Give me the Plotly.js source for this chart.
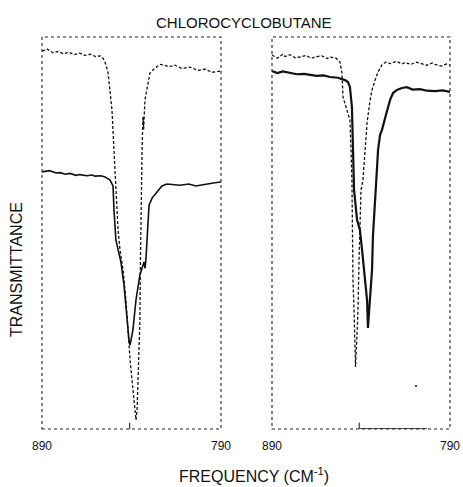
<!DOCTYPE html>
<html>
<head>
<meta charset="utf-8">
<script src="https://cdn.plot.ly/plotly-3.0.1.min.js"></script>
<style>html,body{margin:0;padding:0;background:#fff;}#chart{width:463px;height:487px;}</style>
</head>
<body>
<div id="chart"></div>
<script>
// ---- data (frequency in cm^-1, transmittance in arbitrary %) ----
var chartTitle = "CHLOROCYCLOBUTANE";
var xTitle = "FREQUENCY (CM<sup>-1</sup>)";
var yTitle = "TRANSMITTANCE";
var tickVals = [890, 790];
var tickText = ["890", "790"];

// left panel, upper (dotted) spectrum
var leftUpperFreq = [890, 887, 884, 881, 878, 875, 872, 869, 866, 863, 860, 857.6, 855.9, 854.2, 853.1, 852.0, 850.9, 849.8, 848.7, 847.5, 846.4, 844.7, 843.1, 842.0, 840.8, 839.7, 838.6, 837.5, 836.9, 836.4, 835.8, 835.3, 835.0, 834.7, 834.4, 834.1, 833.6, 833.2, 832.5, 830.8, 829.7, 826.9, 824.0, 822.4, 819.0, 815.7, 812.0, 807.3, 803.0, 798.9, 795.0, 790.0];
var leftUpperT = [96.4, 96.9, 96.0, 96.3, 95.7, 96.1, 95.5, 95.9, 95.3, 95.6, 95.0, 95.2, 94.6, 92.9, 90.8, 86.5, 81.4, 71.2, 61.0, 50.8, 45.7, 40.6, 32.9, 25.3, 17.6, 12.5, 7.4, 2.3, 4.8, 10.7, 17.6, 27.8, 43.1, 58.4, 63.5, 71.2, 79.6, 76.5, 83.9, 87.8, 90.8, 92.1, 93.0, 92.9, 92.4, 92.8, 92.0, 92.3, 91.5, 91.8, 91.0, 91.3];

// left panel, lower (solid) spectrum
var leftLowerFreq = [890, 886, 882, 879.9, 877, 874.4, 871, 868.8, 865, 862, 860.4, 857, 854.8, 852.0, 850.3, 849.8, 848.7, 847.5, 845.9, 844.2, 842.5, 841.9, 841.4, 840.8, 839.2, 837.5, 835.3, 833.0, 832.4, 831.9, 831.3, 830.8, 830.2, 828.5, 825.8, 823.0, 820.2, 817, 812.9, 808, 804, 801.7, 797, 793.4, 790.0];
var leftLowerT = [65.6, 65.9, 65.3, 65.4, 65.0, 65.2, 64.7, 64.9, 64.6, 64.8, 64.5, 64.6, 64.3, 63.5, 62.0, 55.9, 48.2, 45.7, 42.6, 36.7, 27.8, 24.5, 22.7, 21.4, 25.3, 32.9, 39.3, 42.6, 41.0, 43.6, 48.2, 54.6, 57.1, 58.9, 60.5, 62.0, 62.5, 62.3, 62.2, 62.5, 62.0, 62.2, 62.6, 62.8, 63.0];

// right panel, upper (dotted) spectrum
var rightUpperFreq = [890, 887, 884, 882.7, 880, 877, 874.3, 871, 868, 865.8, 862, 859, 857.4, 854.0, 851.8, 850.7, 850.1, 847.9, 846.2, 845.6, 845.1, 844.8, 844.5, 843.9, 843.4, 843.1, 842.5, 841.7, 841.1, 840.6, 840.0, 838.9, 837.8, 836.6, 834.9, 833.8, 832.1, 830.4, 828.2, 826, 823.7, 820, 817, 815.3, 812, 809, 806.9, 803, 800, 798.4, 795, 792, 790.0];
var rightUpperT = [95.4, 94.6, 95.6, 95.0, 95.5, 94.7, 94.9, 95.3, 94.6, 94.9, 95.2, 94.5, 94.9, 94.6, 93.6, 90.8, 84.7, 81.4, 78.8, 71.2, 63.5, 50.8, 38.0, 30.4, 22.7, 15.8, 21.4, 30.4, 43.1, 53.3, 61.0, 63.5, 71.2, 78.1, 83.9, 86.5, 89.0, 91.1, 92.9, 93.6, 93.2, 93.8, 93.1, 93.5, 93.0, 93.6, 93.3, 92.8, 93.4, 93.0, 92.6, 93.1, 92.9];

// right panel, lower (solid) spectrum
var rightLowerFreq = [890, 887, 884, 879.9, 876, 872, 868.7, 865, 861, 857.4, 853, 849.0, 847.3, 846.2, 845.1, 844.5, 843.9, 842.2, 840.6, 839.4, 838.3, 837.2, 836.6, 836.1, 835.5, 834.4, 833.8, 833.3, 832.1, 831.0, 830.4, 829.3, 828.2, 826.0, 823.7, 822.0, 819.8, 817.0, 814.2, 811, 806.9, 803, 798.4, 794, 790.0];
var rightLowerT = [91.3, 90.8, 91.2, 90.8, 90.5, 90.6, 90.3, 90.1, 90.2, 89.8, 89.6, 89.0, 88.5, 87.2, 82.1, 71.2, 61.0, 53.3, 50.8, 45.7, 40.6, 36.7, 32.9, 25.8, 30.4, 36.7, 40.6, 49.0, 58.4, 66.1, 71.2, 75.0, 76.3, 80.1, 83.9, 85.7, 86.5, 87.0, 87.2, 86.6, 86.7, 86.3, 86.2, 86.4, 86.0];

// stray dot in right panel
var strayFreq = [809.1];
var strayT = [11.0];

// small tick on the bottom axes
var midTick = 841;

var traces = [
  {x: leftUpperFreq, y: leftUpperT, xaxis: 'x', yaxis: 'y', mode: 'lines',
   line: {color: '#111', width: 1.3, dash: '3px,2px'}, hoverinfo: 'skip'},
  {x: leftLowerFreq, y: leftLowerT, xaxis: 'x', yaxis: 'y', mode: 'lines',
   line: {color: '#111', width: 1.6}, hoverinfo: 'skip'},
  {x: rightUpperFreq, y: rightUpperT, xaxis: 'x2', yaxis: 'y2', mode: 'lines',
   line: {color: '#111', width: 1.3, dash: '3px,2px'}, hoverinfo: 'skip'},
  {x: rightLowerFreq, y: rightLowerT, xaxis: 'x2', yaxis: 'y2', mode: 'lines',
   line: {color: '#111', width: 2.2}, hoverinfo: 'skip'},
  {x: strayFreq, y: strayT, xaxis: 'x2', yaxis: 'y2', mode: 'markers',
   marker: {color: '#111', size: 2}, hoverinfo: 'skip'}
];

var fnt = {family: 'Liberation Sans, Arial, sans-serif', color: '#111'};
function ax(domain) {
  return {domain: domain, range: [890, 790], showgrid: false, zeroline: false,
    showline: false, tickmode: 'array', tickvals: tickVals, ticktext: tickText,
    ticks: '', ticklabelstandoff: 8,
    tickfont: Object.assign({size: 12}, fnt)};
}
function yax(anchor) {
  return {range: [0, 100], domain: [0, 1], anchor: anchor, showgrid: false, zeroline: false,
    showline: false, showticklabels: false, ticks: ''};
}

var frameLine = {color: '#222', width: 1.1, dash: 'dot'};
var layout = {
  width: 463, height: 487,
  margin: {l: 42, r: 13, t: 37, b: 58},
  paper_bgcolor: '#fff', plot_bgcolor: '#fff',
  showlegend: false,
  xaxis: Object.assign(ax([0, 0.4387]), {anchor: 'y'}),
  xaxis2: Object.assign(ax([0.5637, 1]), {anchor: 'y2'}),
  yaxis: yax('x'),
  yaxis2: yax('x2'),
  shapes: [
    {type: 'rect', xref: 'x domain', yref: 'y domain', x0: 0, x1: 1, y0: 0, y1: 1, line: frameLine},
    {type: 'rect', xref: 'x2 domain', yref: 'y2 domain', x0: 0, x1: 1, y0: 0, y1: 1, line: frameLine},
    {type: 'line', xref: 'x', yref: 'y', x0: midTick, x1: midTick, y0: 0, y1: 1.6, line: {color: '#111', width: 1}},
    {type: 'line', xref: 'x2', yref: 'y2', x0: midTick, x1: midTick, y0: 0, y1: 1.6, line: {color: '#111', width: 1}},
    {type: 'line', xref: 'x2', yref: 'y2', x0: midTick, x1: 803, y0: 0, y1: 0, line: {color: '#111', width: 1.6}}
  ],
  annotations: [
    {text: chartTitle, xref: 'paper', yref: 'paper', x: 0.495, y: 1.036, xanchor: 'center', yanchor: 'middle',
     showarrow: false, font: Object.assign({size: 15}, fnt)},
    {text: xTitle, xref: 'paper', yref: 'paper', x: 0.52, y: -0.117, xanchor: 'center', yanchor: 'middle',
     showarrow: false, font: Object.assign({size: 16}, fnt)},
    {text: yTitle, xref: 'paper', yref: 'paper', x: -0.061, y: 0.406, xanchor: 'center', yanchor: 'middle',
     textangle: -90, showarrow: false, font: Object.assign({size: 16}, fnt)}
  ]
};

Plotly.newPlot('chart', traces, layout, {staticPlot: true, displayModeBar: false});
</script>
</body>
</html>
